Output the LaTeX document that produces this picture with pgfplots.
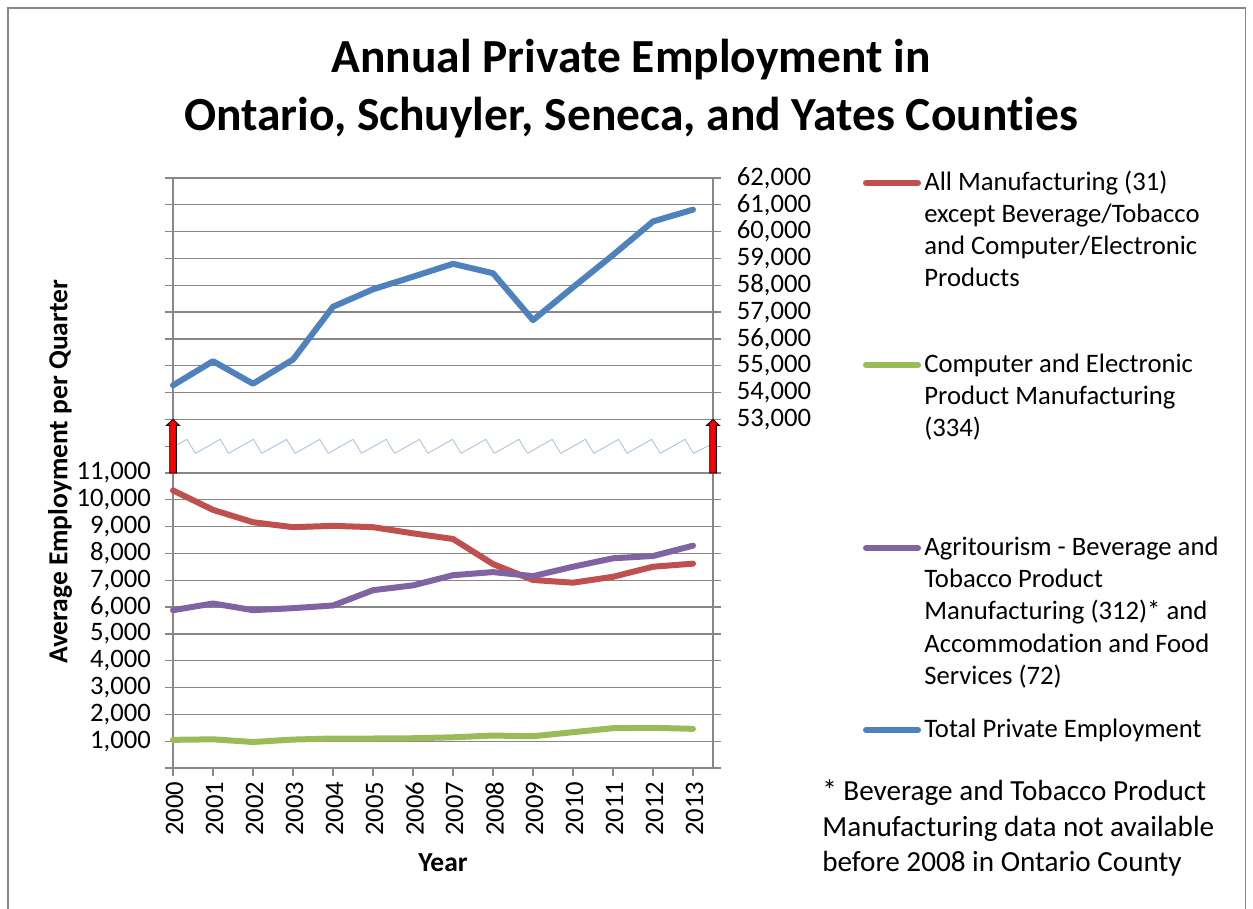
\documentclass[border=0pt]{standalone}
\usepackage{fontspec}
\setmainfont{Carlito}[Ligatures=NoCommon]
\usepackage{pgfplots}
\pgfplotsset{compat=1.18}
\usetikzlibrary{calc}
\definecolor{cRed}{HTML}{C0504D}
\definecolor{cGreen}{HTML}{9BBB59}
\definecolor{cPurple}{HTML}{8064A2}
\definecolor{cBlue}{HTML}{4F81BD}
\definecolor{cGrid}{HTML}{878787}
\definecolor{cZig}{HTML}{A7C0E3}
\pgfplotsset{/pgf/number format/assume math mode=true}
\newcommand\lgfont{\fontsize{16pt}{19pt}\selectfont}
\newcommand\nfont{\fontsize{17.5pt}{21pt}\selectfont}
% text line: x px, y px (visual centre), text
\newcommand\tline[4]{\node[anchor=base west, inner sep=0pt, font=#4] at ({#1*0.6pt},{-(#2+7)*0.6pt}) {#3};}
\begin{document}
\begin{tikzpicture}
\path[use as bounding box] (0,0) rectangle (751.8pt,-545.4pt);
\draw[cGrid, line width=0.8pt] (4.8pt,-600pt) -- (4.8pt,-4.8pt) -- (747.4pt,-4.8pt) -- (747.4pt,-600pt);
% title
\node[font=\fontsize{28.5pt}{34pt}\selectfont\bfseries] at (378.6pt,-36pt) {Annual Private Employment in};
\node[font=\fontsize{28.5pt}{34pt}\selectfont\bfseries] at (378.6pt,-70.8pt) {Ontario, Schuyler, Seneca, and Yates Counties};

\begin{axis}[
  at={(103.8pt,-460.8pt)}, anchor=south west,
  scale only axis, width=324pt, height=354pt,
  xmin=2000, xmax=2013.5, ymin=0, ymax=22000,
  scaled ticks=false,
  xtick={2000,2001,...,2013},
  ytick={1000,2000,...,11000},
  extra y ticks={0,12000,13000,14000,15000,16000,17000,18000,19000,20000,21000,22000},
  extra y tick labels={},
  extra y tick style={grid=major},
  ymajorgrids,
  xtick pos=left, ytick pos=both, yticklabel pos=left,
  tick align=outside,
  major tick length=4.8pt,
  every tick/.style={cGrid, line width=0.8pt},
  axis line style={cGrid, line width=0.8pt},
  grid style={cGrid, line width=0.8pt},
  tick label style={font=\lgfont, text=black},
  yticklabel style={/pgf/number format/1000 sep={,}, xshift=-5pt},
  xticklabel style={rotate=90, anchor=east, /pgf/number format/1000 sep={}, yshift=-1pt},
  clip=false,
  every axis plot/.append style={line width=3.6pt, line cap=round, line join=round},
]
\addplot[cRed] coordinates {(2000,10350) (2001,9625) (2002,9165) (2003,8980) (2004,9030) (2005,8980) (2006,8750) (2007,8540) (2008,7605) (2009,7010) (2010,6910) (2011,7130) (2012,7505) (2013,7620)};
\addplot[cGreen] coordinates {(2000,1050) (2001,1070) (2002,970) (2003,1060) (2004,1100) (2005,1100) (2006,1110) (2007,1145) (2008,1210) (2009,1185) (2010,1335) (2011,1485) (2012,1500) (2013,1460)};
\addplot[cPurple] coordinates {(2000,5885) (2001,6135) (2002,5885) (2003,5960) (2004,6060) (2005,6630) (2006,6810) (2007,7190) (2008,7305) (2009,7155) (2010,7505) (2011,7820) (2012,7905) (2013,8290)};
% axis break
\fill[white] (axis cs:2000,11040) rectangle (axis cs:2013.5,12960);
\draw[cZig, line width=0.5pt] (axis cs:2000,11960) -- (axis cs:2000.35,12255) -- (axis cs:2000.56,11733);
\pgfplotsinvokeforeach{1,...,15}{
  \draw[cZig, line width=0.5pt] (axis cs:{2000.35+0.83*#1-0.62},11733) -- (axis cs:{2000.35+0.83*#1},12255) -- (axis cs:{2000.56+0.83*#1},11733);
}
\draw[cZig, line width=0.5pt] (axis cs:2013.01,11733) -- (axis cs:2013.5,12100);
\coordinate (LB) at (axis cs:2000,11000);
\coordinate (LT) at (axis cs:2000,13000);
\coordinate (RB) at (axis cs:2013.5,11000);
\coordinate (RT) at (axis cs:2013.5,13000);
\end{axis}

\begin{axis}[
  at={(103.8pt,-460.8pt)}, anchor=south west,
  scale only axis, width=324pt, height=354pt,
  xmin=2000, xmax=2013.5, ymin=40000, ymax=62000,
  scaled ticks=false,
  axis x line=none, axis y line*=right,
  ytick={53000,54000,...,62000},
  tick align=outside,
  major tick length=4.8pt,
  every tick/.style={cGrid, line width=0.8pt},
  axis line style={cGrid, line width=0.8pt},
  tick label style={font=\lgfont, text=black},
  yticklabel style={/pgf/number format/1000 sep={,}, xshift=6pt},
  clip=false,
]
\addplot[cBlue, line width=3.6pt, line cap=round, line join=round] coordinates {(2000,54270) (2001,55170) (2002,54330) (2003,55230) (2004,57200) (2005,57850) (2006,58320) (2007,58800) (2008,58450) (2009,56700) (2010,57925) (2011,59130) (2012,60380) (2013,60820)};
\end{axis}

% break arrows
\foreach \B/\T in {LB/LT,RB/RT}{
  \draw[black, fill=red, line width=0.5pt, line join=miter] ($(\B)+(-2pt,0)$) -- ($(\T)+(-2pt,-3.6pt)$) -- ($(\T)+(-3.9pt,-3.6pt)$) -- (\T) -- ($(\T)+(3.9pt,-3.6pt)$) -- ($(\T)+(2pt,-3.6pt)$) -- ($(\B)+(2pt,0)$) -- cycle;
}

% axis titles
\node[rotate=90, font=\fontsize{16.5pt}{19pt}\selectfont\bfseries] at (36pt,-283.2pt) {Average Employment per Quarter};
\node[font=\fontsize{16.5pt}{19pt}\selectfont\bfseries] at (265.8pt,-517.8pt) {Year};

% legend
\foreach \c/\y in {cRed/183, cGreen/365, cPurple/548, cBlue/730}{
  \draw[\c, line width=3.6pt, line cap=round] ({866*0.6pt},{-\y*0.6pt}) -- ({918*0.6pt},{-\y*0.6pt});
}
\tline{924}{183}{All Manufacturing (31)}{\lgfont}
\tline{924}{215}{except Beverage/Tobacco}{\lgfont}
\tline{924}{247}{and Computer/Electronic}{\lgfont}
\tline{924}{279}{Products}{\lgfont}
\tline{924}{365}{Computer and Electronic}{\lgfont}
\tline{924}{397}{Product Manufacturing}{\lgfont}
\tline{924}{429}{(334)}{\lgfont}
\tline{924}{548}{Agritourism - Beverage and}{\lgfont}
\tline{924}{580}{Tobacco Product}{\lgfont}
\tline{924}{612}{Manufacturing (312)* and}{\lgfont}
\tline{924}{645}{Accommodation and Food}{\lgfont}
\tline{924}{677}{Services (72)}{\lgfont}
\tline{924}{730}{Total Private Employment}{\lgfont}
% note
\tline{822}{793}{* Beverage and Tobacco Product}{\nfont}
\tline{822}{829}{Manufacturing data not available}{\nfont}
\tline{822}{864}{before 2008 in Ontario County}{\nfont}
\end{tikzpicture}
\end{document}
